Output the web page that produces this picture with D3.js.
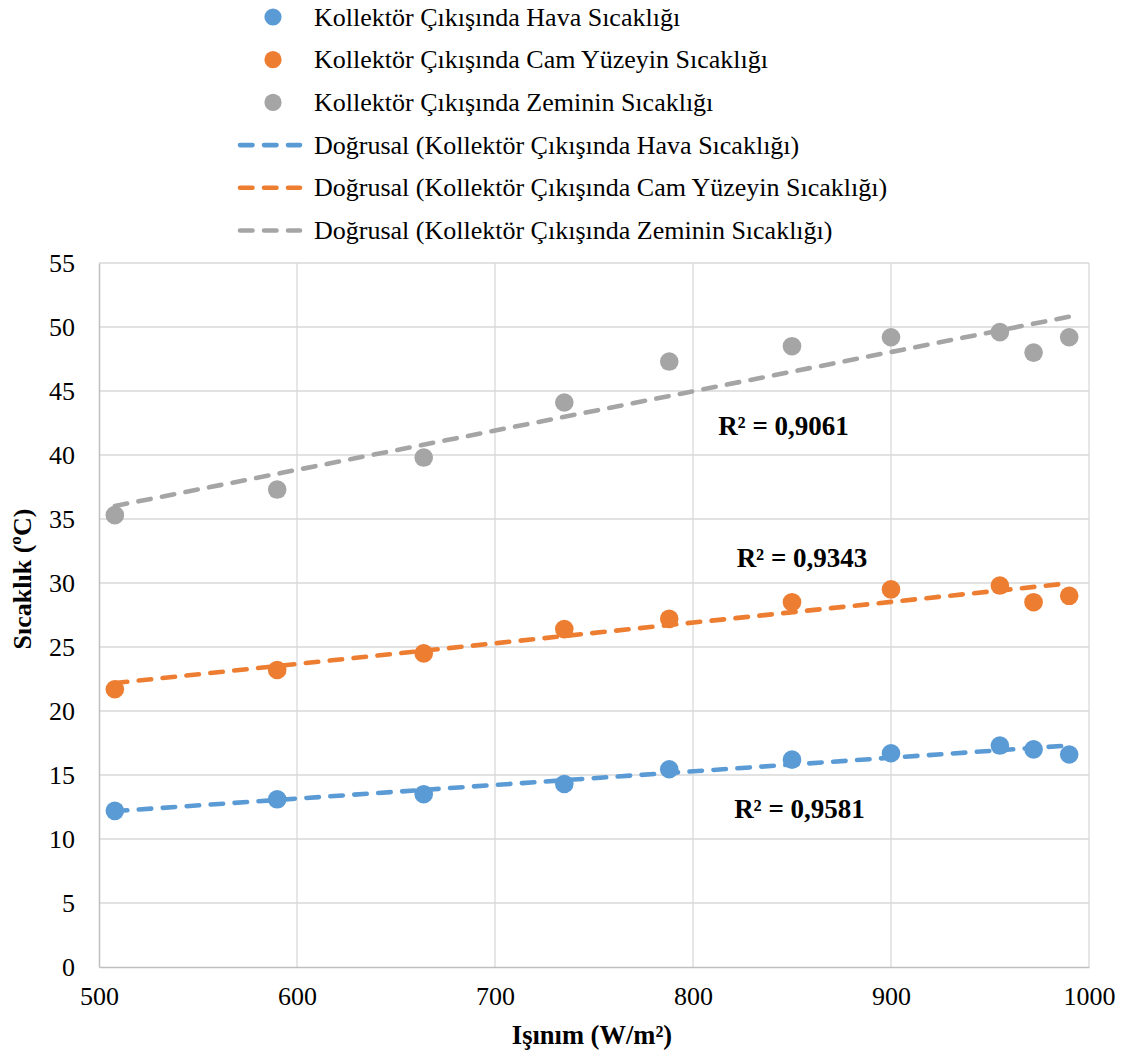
<!DOCTYPE html>
<html>
<head>
<meta charset="utf-8">
<script src="https://cdn.jsdelivr.net/npm/d3@7"></script>
<style>
  html, body { margin: 0; padding: 0; background: #fff; }
  svg { display: block; }
  text { font-family: "Liberation Serif", "Times New Roman", serif; fill: #000; }
</style>
</head>
<body>
<svg id="chart" width="1125" height="1052"></svg>
<script>
// ---- Data ----
const irradiance = [508, 590, 664, 735, 788, 850, 900, 955, 972, 990];
const airTemp    = [12.2, 13.1, 13.5, 14.3, 15.45, 16.2, 16.7, 17.3, 17.0, 16.6];
const glassTemp  = [21.7, 23.2, 24.5, 26.4, 27.2, 28.5, 29.5, 29.8, 28.5, 29.0];
const floorTemp  = [35.3, 37.3, 39.8, 44.1, 47.3, 48.5, 49.2, 49.6, 48.0, 49.2];
const seriesNames = [
  "Kollektör Çıkışında Hava Sıcaklığı",
  "Kollektör Çıkışında Cam Yüzeyin Sıcaklığı",
  "Kollektör Çıkışında Zeminin Sıcaklığı"
];
const r2Labels = ["R² = 0,9581", "R² = 0,9343", "R² = 0,9061"];
const xTicks = [500, 600, 700, 800, 900, 1000];
const yTicks = [0, 5, 10, 15, 20, 25, 30, 35, 40, 45, 50, 55];
const colors = ["#5B9BD5", "#ED7D31", "#A5A5A5"];

const seriesValues = [airTemp, glassTemp, floorTemp];

// ---- Layout ----
const svg = d3.select("#chart");
const plot = { left: 99, right: 1089, top: 263, bottom: 967 };
const x = d3.scaleLinear().domain([500, 1000]).range([plot.left, plot.right]);
const y = d3.scaleLinear().domain([0, 55]).range([plot.bottom, plot.top]);

// Gridlines
const grid = svg.append("g");
grid.selectAll("line.h").data(yTicks.filter(d => d > 0)).join("line")
  .attr("x1", plot.left).attr("x2", plot.right)
  .attr("y1", d => y(d)).attr("y2", d => y(d))
  .attr("stroke", "#d9d9d9").attr("stroke-width", 1.3);
grid.selectAll("line.v").data(xTicks.filter(d => d > 500)).join("line")
  .attr("y1", plot.top).attr("y2", plot.bottom)
  .attr("x1", d => x(d)).attr("x2", d => x(d))
  .attr("stroke", "#d9d9d9").attr("stroke-width", 1.3);

// Axes
const xAxis = d3.axisBottom(x).tickValues(xTicks).tickSize(0).tickPadding(20).tickFormat(d3.format("d"));
const yAxis = d3.axisLeft(y).tickValues(yTicks).tickSize(0).tickPadding(24).tickFormat(d3.format("d"));

const gx = svg.append("g").attr("transform", `translate(0,${plot.bottom})`).call(xAxis);
const gy = svg.append("g").attr("transform", `translate(${plot.left},0)`).call(yAxis);
[gx, gy].forEach(g => {
  g.select(".domain").attr("stroke", "#bfbfbf").attr("stroke-width", 1.5);
  g.selectAll("text").style("font-family", '"Liberation Serif", "Times New Roman", serif')
    .style("font-size", "26px").attr("fill", "#000");
});
gx.selectAll("text").attr("dy", "0.71em");

// Axis titles
svg.append("text")
  .attr("x", (plot.left + plot.right) / 2 - 2).attr("y", 1044)
  .attr("text-anchor", "middle")
  .style("font-size", "26.5px").style("font-weight", "bold")
  .text("Işınım (W/m²)");
svg.append("text")
  .attr("transform", `translate(31,579) rotate(-90)`)
  .attr("text-anchor", "middle")
  .style("font-size", "26px").style("font-weight", "bold")
  .text("Sıcaklık (ºC)");

// Linear regression for trendlines
function linreg(xs, ys) {
  const n = xs.length;
  const mx = d3.mean(xs), my = d3.mean(ys);
  let sxy = 0, sxx = 0;
  for (let i = 0; i < n; i++) { sxy += (xs[i] - mx) * (ys[i] - my); sxx += (xs[i] - mx) ** 2; }
  const b = sxy / sxx;
  return { a: my - b * mx, b };
}

// Markers
seriesValues.forEach((vals, si) => {
  svg.append("g").selectAll("circle")
    .data(irradiance.map((xv, i) => [xv, vals[i]]))
    .join("circle")
    .attr("cx", d => x(d[0])).attr("cy", d => y(d[1]))
    .attr("r", 9.3).attr("fill", colors[si]);
});

// Trendlines
const xMin = d3.min(irradiance), xMax = d3.max(irradiance);
seriesValues.forEach((vals, si) => {
  const { a, b } = linreg(irradiance, vals);
  svg.append("line")
    .attr("x1", x(xMin)).attr("y1", y(a + b * xMin))
    .attr("x2", x(xMax)).attr("y2", y(a + b * xMax))
    .attr("stroke", colors[si]).attr("stroke-width", 4.6)
    .attr("stroke-linecap", "round")
    .attr("stroke-dasharray", "12.5,11.5");
});

// R² labels
const r2Pos = [[799.5, 809], [802, 558], [783.5, 426]];
r2Labels.forEach((t, i) => {
  svg.append("text")
    .attr("x", r2Pos[i][0]).attr("y", r2Pos[i][1])
    .attr("dy", "0.35em").attr("text-anchor", "middle")
    .style("font-size", "27px").style("font-weight", "bold")
    .text(t);
});

// Legend
const legendItems = seriesNames.map((n, i) => ({ type: "marker", label: n, color: colors[i] }))
  .concat(seriesNames.map((n, i) => ({ type: "line", label: `Doğrusal (${n})`, color: colors[i] })));
const lg = svg.append("g");
legendItems.forEach((it, i) => {
  const cy = 17 + i * 42.7;
  if (it.type === "marker") {
    lg.append("circle").attr("cx", 273).attr("cy", cy).attr("r", 8.6).attr("fill", it.color);
  } else {
    lg.append("line").attr("x1", 240).attr("x2", 300).attr("y1", cy).attr("y2", cy)
      .attr("stroke", it.color).attr("stroke-width", 4.6)
      .attr("stroke-linecap", "round").attr("stroke-dasharray", "12.5,11.5");
  }
  lg.append("text").attr("x", 314).attr("y", cy).attr("dy", "0.33em")
    .style("font-size", "26px").text(it.label);
});
</script>
</body>
</html>
